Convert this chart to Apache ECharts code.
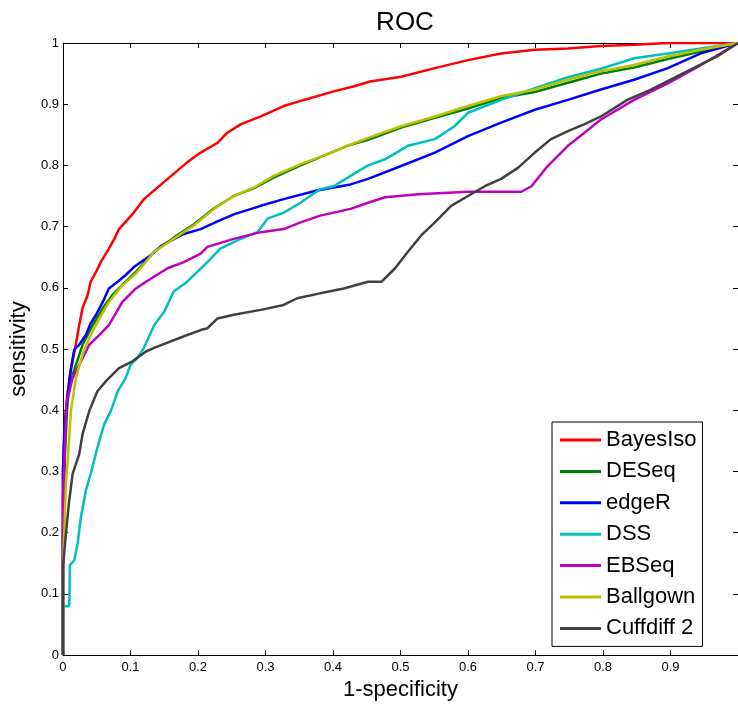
<!DOCTYPE html>
<html>
<head>
<meta charset="utf-8">
<script src="https://cdn.jsdelivr.net/npm/echarts@6/dist/echarts.min.js"></script>
<style>html,body{margin:0;padding:0;background:#fff}#c{width:738px;height:706px}</style>
</head>
<body>
<div id="c"></div>
<script>
const seriesNames = ['BayesIso','DESeq','edgeR','DSS','EBSeq','Ballgown','Cuffdiff 2'];
const seriesColors = ['#ff0000','#008000','#0000ff','#00bfbf','#bf00bf','#bfbf00','#404040'];
const xTicks = [0,0.1,0.2,0.3,0.4,0.5,0.6,0.7,0.8,0.9,1];
const yTicks = [0,0.1,0.2,0.3,0.4,0.5,0.6,0.7,0.8,0.9,1];

const bayesIso = [[0,0],[0,0.3],[0.003,0.38],[0.006,0.42],[0.01,0.455],[0.0143,0.48],[0.019,0.507],[0.024,0.539],[0.029,0.567],[0.0365,0.588],[0.041,0.61],[0.049,0.626],[0.056,0.642],[0.068,0.664],[0.076,0.68],[0.083,0.696],[0.105,0.723],[0.12,0.745],[0.155,0.778],[0.184,0.805],[0.204,0.821],[0.229,0.837],[0.243,0.853],[0.263,0.867],[0.293,0.88],[0.327,0.897],[0.357,0.907],[0.401,0.921],[0.43,0.929],[0.455,0.937],[0.501,0.945],[0.551,0.959],[0.6,0.972],[0.649,0.983],[0.699,0.989],[0.748,0.991],[0.797,0.995],[0.846,0.997],[0.896,1.0],[1,1]];
const deseq = [[0,0],[0,0.2],[0.003,0.33],[0.006,0.4],[0.0093,0.442],[0.0192,0.474],[0.029,0.507],[0.044,0.539],[0.059,0.567],[0.073,0.588],[0.093,0.61],[0.108,0.626],[0.135,0.659],[0.164,0.682],[0.194,0.704],[0.224,0.73],[0.253,0.75],[0.283,0.763],[0.312,0.78],[0.352,0.8],[0.391,0.818],[0.421,0.832],[0.452,0.842],[0.501,0.862],[0.551,0.878],[0.6,0.893],[0.649,0.91],[0.699,0.92],[0.748,0.935],[0.797,0.95],[0.846,0.96],[0.896,0.974],[0.945,0.986],[1,1]];
const edgeR = [[0,0],[0,0.3],[0.002,0.37],[0.007,0.426],[0.0118,0.469],[0.0167,0.499],[0.024,0.507],[0.034,0.523],[0.041,0.542],[0.049,0.556],[0.059,0.577],[0.068,0.599],[0.081,0.61],[0.093,0.621],[0.105,0.634],[0.13,0.653],[0.145,0.668],[0.179,0.688],[0.204,0.696],[0.224,0.706],[0.253,0.72],[0.293,0.734],[0.327,0.745],[0.376,0.759],[0.426,0.769],[0.452,0.778],[0.501,0.799],[0.551,0.821],[0.6,0.848],[0.649,0.87],[0.699,0.891],[0.748,0.907],[0.797,0.924],[0.846,0.94],[0.896,0.959],[0.945,0.983],[1,1]];
const dss = [[0,0],[0,0.08],[0.0093,0.08],[0.0103,0.147],[0.0167,0.155],[0.0217,0.182],[0.0266,0.226],[0.034,0.269],[0.041,0.296],[0.051,0.339],[0.061,0.377],[0.071,0.399],[0.081,0.431],[0.093,0.453],[0.1,0.474],[0.11,0.485],[0.12,0.502],[0.135,0.539],[0.15,0.561],[0.164,0.594],[0.184,0.61],[0.199,0.626],[0.214,0.642],[0.233,0.664],[0.263,0.68],[0.288,0.691],[0.303,0.713],[0.327,0.723],[0.352,0.739],[0.366,0.75],[0.381,0.761],[0.401,0.766],[0.426,0.783],[0.452,0.8],[0.477,0.81],[0.511,0.832],[0.551,0.843],[0.58,0.864],[0.6,0.886],[0.649,0.907],[0.699,0.926],[0.748,0.944],[0.797,0.958],[0.846,0.975],[0.896,0.983],[0.945,0.991],[1,1]];
const ebseq = [[0,0],[0,0.26],[0.002,0.312],[0.005,0.41],[0.0143,0.453],[0.024,0.474],[0.039,0.507],[0.054,0.523],[0.068,0.539],[0.088,0.577],[0.108,0.599],[0.123,0.61],[0.155,0.632],[0.179,0.642],[0.204,0.656],[0.214,0.667],[0.253,0.68],[0.293,0.691],[0.327,0.696],[0.352,0.707],[0.381,0.718],[0.426,0.729],[0.452,0.739],[0.477,0.748],[0.526,0.753],[0.6,0.757],[0.679,0.757],[0.694,0.766],[0.718,0.799],[0.748,0.832],[0.772,0.853],[0.797,0.875],[0.846,0.907],[0.896,0.934],[0.945,0.964],[1,1]];
const ballgown = [[0,0],[0,0.14],[0.0044,0.28],[0.007,0.318],[0.0118,0.399],[0.0192,0.453],[0.029,0.491],[0.039,0.518],[0.054,0.55],[0.068,0.577],[0.088,0.604],[0.108,0.623],[0.135,0.659],[0.164,0.68],[0.194,0.702],[0.224,0.729],[0.253,0.75],[0.283,0.764],[0.312,0.783],[0.352,0.802],[0.391,0.818],[0.421,0.832],[0.452,0.845],[0.501,0.864],[0.551,0.88],[0.6,0.897],[0.649,0.913],[0.699,0.924],[0.748,0.94],[0.797,0.954],[0.846,0.964],[0.896,0.978],[0.945,0.989],[1,1]];
const cuffdiff2 = [[0,0],[0,0.144],[0.0044,0.199],[0.0093,0.253],[0.0143,0.296],[0.024,0.328],[0.029,0.361],[0.039,0.399],[0.051,0.431],[0.064,0.448],[0.083,0.469],[0.103,0.48],[0.123,0.496],[0.135,0.502],[0.184,0.523],[0.204,0.531],[0.214,0.534],[0.229,0.55],[0.253,0.556],[0.293,0.564],[0.327,0.572],[0.347,0.583],[0.381,0.591],[0.416,0.599],[0.452,0.61],[0.472,0.61],[0.492,0.632],[0.511,0.659],[0.531,0.686],[0.551,0.707],[0.575,0.734],[0.6,0.75],[0.625,0.766],[0.649,0.778],[0.674,0.796],[0.699,0.821],[0.723,0.843],[0.748,0.856],[0.772,0.867],[0.797,0.88],[0.836,0.907],[0.871,0.924],[0.92,0.951],[0.969,0.978],[1,1]];

const seriesData = [bayesIso, deseq, edgeR, dss, ebseq, ballgown, cuffdiff2];
const FONT = "'Liberation Sans', Arial, sans-serif";
const fmt = v => { const r = Math.round(v*10)/10; return String(r); };

const chart = echarts.init(document.getElementById('c'), null, {renderer:'canvas'});
const axisCommon = {
  type:'value', min:0, max:1, interval:0.1,
  splitLine:{show:false},
  axisLine:{show:true, onZero:false, lineStyle:{color:'#000', width:1}},
  axisTick:{show:true, inside:true, length:5, lineStyle:{color:'#000'}}
};
chart.setOption({
  animation:false,
  backgroundColor:'#fff',
  title:{text:'ROC', left:400, textAlign:'center', top:5, textStyle:{fontFamily:FONT, fontSize:26, fontWeight:'normal', color:'#000'}},
  grid:{left:62, top:43, width:677, height:616, containLabel:false},
  legend:{
    orient:'vertical', left:552, top:422, data:seriesNames,
    icon:'rect', itemWidth:41, itemHeight:3, itemGap:9.4,
    backgroundColor:'#fff', borderColor:'#000', borderWidth:1, borderRadius:0,
    padding:[7,6,7,8],
    textStyle:{fontFamily:FONT, fontSize:22, lineHeight:22, color:'#000'}
  },
  xAxis:[
    Object.assign({}, axisCommon, {position:'bottom', name:'1-specificity', nameLocation:'middle', nameGap:23,
      nameTextStyle:{fontFamily:FONT, fontSize:22, color:'#000'},
      axisLabel:{show:true, showMaxLabel:false, formatter:fmt, margin:6, fontFamily:FONT, fontSize:13, color:'#000'}}),
    Object.assign({}, axisCommon, {position:'top', axisLabel:{show:false}})
  ],
  yAxis:[
    Object.assign({}, axisCommon, {position:'left', name:'sensitivity', nameLocation:'middle', nameGap:31, nameRotate:90,
      nameTextStyle:{fontFamily:FONT, fontSize:22, color:'#000'},
      axisLabel:{show:true, formatter:fmt, margin:4, fontFamily:FONT, fontSize:13, color:'#000'}}),
    Object.assign({}, axisCommon, {position:'right', axisLabel:{show:false}})
  ],
  series: seriesNames.map((n,i)=>({
    name:n, type:'line', data:seriesData[i], xAxisIndex:0, yAxisIndex:0,
    showSymbol:false, symbol:'none', clip:true,
    lineStyle:{color:seriesColors[i], width:2.5}, itemStyle:{color:seriesColors[i]}
  }))
});
</script>
</body>
</html>
